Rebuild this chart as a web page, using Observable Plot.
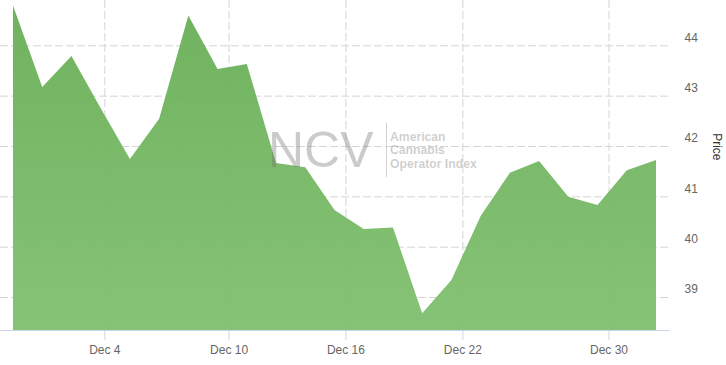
<!DOCTYPE html>
<html>
<head>
<meta charset="utf-8">
<script src="https://cdn.jsdelivr.net/npm/d3@7"></script>
<script src="https://cdn.jsdelivr.net/npm/@observablehq/plot@0.6"></script>
<style>
  html, body { margin: 0; padding: 0; background: #fff; }
  #wrap { position: relative; width: 726px; height: 365px; }
  #wm { position: absolute; left: 0; top: 0; pointer-events: none; }
</style>
</head>
<body>
<div id="wrap"></div>
<script>
// Trading days (one point per session)
const dates = [
  "2020-12-01","2020-12-02","2020-12-03","2020-12-04","2020-12-07","2020-12-08",
  "2020-12-09","2020-12-10","2020-12-11","2020-12-14","2020-12-15","2020-12-16",
  "2020-12-17","2020-12-18","2020-12-21","2020-12-22","2020-12-23","2020-12-24",
  "2020-12-28","2020-12-29","2020-12-30","2020-12-31","2021-01-04"
];
// Index price
const values = [
  44.79, 43.17, 43.79, 42.75, 41.74, 42.54,
  44.59, 43.53, 43.63, 41.66, 41.58, 40.73,
  40.35, 40.38, 38.68, 39.34, 40.61, 41.47,
  41.70, 40.99, 40.83, 41.52, 41.72
];
// X axis tick dates and labels
const tickDates = ["2020-12-04","2020-12-10","2020-12-16","2020-12-22","2020-12-30"];
const tickLabels = ["Dec 4","Dec 10","Dec 16","Dec 22","Dec 30"];
// Y axis ticks
const yTicks = [39, 40, 41, 42, 43, 44];
const yDomain = [38.345, 44.9];
const tzOffsetHours = 9; // ticks fall at local midnight

const data = dates.map((d, i) => ({i, t: +new Date(d + "T00:00:00Z"), value: values[i]}));

// ordinal position of a tick time, interpolated between surrounding sessions
function ordinalPos(dateStr) {
  const t = +new Date(dateStr + "T00:00:00Z") + tzOffsetHours * 3600e3;
  for (let k = 0; k < data.length - 1; k++) {
    if (t >= data[k].t && t < data[k + 1].t) {
      return k + (t - data[k].t) / (data[k + 1].t - data[k].t);
    }
  }
  return data.length - 1;
}
const tickPos = tickDates.map(ordinalPos);
const labelOf = new Map(tickPos.map((p, k) => [p, tickLabels[k]]));

const font = "'Liberation Sans', Arial, Helvetica, sans-serif";

const chart = Plot.plot({
  width: 726,
  height: 365,
  marginLeft: 0,
  marginRight: 56,
  marginTop: 0,
  marginBottom: 35,
  style: {fontFamily: font, fontSize: "12px", background: "#fff", overflow: "visible"},
  x: {domain: [0, dates.length - 1], insetLeft: 13, insetRight: 14, axis: null},
  y: {domain: yDomain, axis: null},
  marks: [
    Plot.ruleY(yTicks, {y: d => d, stroke: "#d4d4d4", strokeDasharray: "8,3"}),
    Plot.ruleX(tickPos, {x: d => d, stroke: "#d4d4d4", strokeDasharray: "8,3"}),
    () => {
      const svg = d3.create("svg:defs");
      const g = svg.append("linearGradient").attr("id", "areaGrad")
        .attr("x1", 0).attr("y1", 0).attr("x2", 0).attr("y2", 1);
      g.append("stop").attr("offset", "0%").attr("stop-color", "#67ae55");
      g.append("stop").attr("offset", "100%").attr("stop-color", "#7fbf6e");
      return svg.node();
    },
    Plot.areaY(data, {x: "i", y1: yDomain[0], y2: "value", fill: "url(#areaGrad)", fillOpacity: 0.94}),
    Plot.ruleY([yDomain[0]], {stroke: "#ccd6eb"}),
    Plot.axisX(tickPos, {
      anchor: "bottom",
      tickSize: 10,
      tickPadding: 5,
      stroke: "#ccd6eb",
      fill: "#666",
      fontSize: 12,
      tickFormat: d => labelOf.get(d),
      label: null
    }),
    Plot.axisY(yTicks, {
      anchor: "right",
      tickSize: 0,
      tickPadding: 14,
      textAnchor: "start",
      dy: -8,
      fill: "#666",
      fontSize: 12,
      tickFormat: d => String(d),
      label: null
    }),
    Plot.text(["Price"], {
      frameAnchor: "right",
      text: d => d,
      rotate: 90,
      dx: 46,
      dy: -5,
      fill: "#333",
      fontSize: 12
    })
  ]
});

const wrap = document.getElementById("wrap");
wrap.appendChild(chart);

// NCV watermark
const wm = d3.select(wrap).append("svg").attr("id", "wm")
  .attr("width", 726).attr("height", 365);
wm.append("text").attr("x", 268).attr("y", 166.7)
  .attr("font-family", font).attr("font-size", 50)
  .attr("fill", "#6f6f6f").attr("fill-opacity", 0.36).text("NCV");
wm.append("line").attr("x1", 386.5).attr("x2", 386.5).attr("y1", 123).attr("y2", 177)
  .attr("stroke", "#d2d2d2").attr("stroke-width", 1);
["American", "Cannabis", "Operator Index"].forEach((s, k) => {
  wm.append("text").attr("x", 390).attr("y", 141 + k * 13.3)
    .attr("font-family", font).attr("font-size", 12.2).attr("font-weight", 600)
    .attr("fill", "#6f6f6f").attr("fill-opacity", 0.34).text(s);
});
</script>
</body>
</html>
